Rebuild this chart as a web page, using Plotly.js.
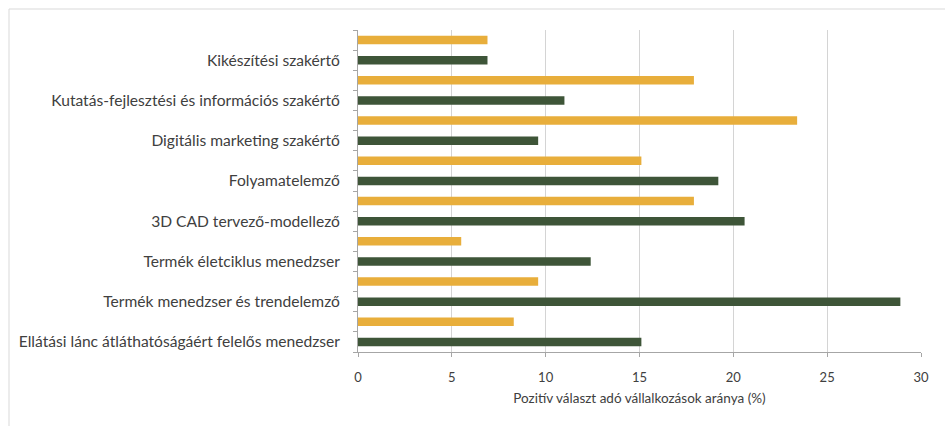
<!DOCTYPE html>
<html>
<head>
<meta charset="utf-8">
<script src="https://cdn.plot.ly/plotly-3.0.1.min.js"></script>
<style>
  html, body { margin: 0; padding: 0; background: #ffffff; }
  #chart { width: 945px; height: 426px; }
</style>
</head>
<body>
<div id="chart"></div>
<script>
// Categories, top to bottom as shown
const categories = [
  "Kikészítési szakértő",
  "Kutatás-fejlesztési és információs szakértő",
  "Digitális marketing szakértő",
  "Folyamatelemző",
  "3D CAD tervező-modellező",
  "Termék életciklus menedzser",
  "Termék menedzser és trendelemző",
  "Ellátási lánc átláthatóságáért felelős menedzser"
];
// Orange series (upper bar of each pair)
const orangeValues = [6.9, 17.9, 23.4, 15.1, 17.9, 5.5, 9.6, 8.3];
// Green series (lower bar of each pair)
const greenValues = [6.9, 11.0, 9.6, 19.2, 20.6, 12.4, 28.9, 15.1];
const xTicks = [0, 5, 10, 15, 20, 25, 30];
const xTitle = "Pozitív választ adó vállalkozások aránya (%)";

// each category occupies two rows: orange row then green row
const orangeRows = categories.map((c, i) => 2 * i);
const greenRows = categories.map((c, i) => 2 * i + 1);

const font = { family: "Lato, 'Open Sans', sans-serif", size: 13, color: "#404040" };
const yFont = { family: "Lato, 'Open Sans', sans-serif", size: 15.6, color: "#404040" };
const titleFont = { family: "Lato, 'Open Sans', sans-serif", size: 13.5, color: "#404040" };

const traces = [
  {
    type: "bar", orientation: "h",
    x: orangeValues, y: orangeRows,
    width: 0.42,
    marker: { color: "#E8AE3B" },
    hoverinfo: "x", showlegend: false
  },
  {
    type: "bar", orientation: "h",
    x: greenValues, y: greenRows,
    width: 0.42,
    marker: { color: "#3E5538" },
    hoverinfo: "x", showlegend: false
  }
];

const L = 358, R = 921, T = 30, B = 352, W = 945, H = 426;
const px = v => (v - L) / (R - L);
const py = v => (B - v) / (B - T);

const layout = {
  width: W, height: H,
  margin: { l: L, r: W - R, t: T, b: H - B, pad: 0 },
  paper_bgcolor: "#ffffff",
  plot_bgcolor: "#ffffff",
  font: font,
  barmode: "overlay",
  xaxis: {
    range: [0, 30],
    tickmode: "array",
    tickvals: xTicks,
    ticktext: xTicks.map(String),
    showgrid: true,
    gridcolor: "#D4D4D4",
    gridwidth: 1,
    zeroline: false,
    showline: true,
    linecolor: "#A6A6A6",
    linewidth: 1,
    ticks: "outside",
    ticklen: 4,
    tickcolor: "#A6A6A6",
    ticklabelstandoff: 9,
    tickfont: font,
    title: { text: xTitle, font: titleFont, standoff: 9 },
    fixedrange: true
  },
  yaxis: {
    range: [15.5, -0.5],
    tickmode: "array",
    tickvals: greenRows,
    ticktext: categories,
    showgrid: false,
    zeroline: false,
    showline: true,
    linecolor: "#A6A6A6",
    linewidth: 1,
    ticks: "",
    minor: { tick0: 0.5, dtick: 1, ticks: "outside", ticklen: 4, tickcolor: "#A6A6A6", showgrid: false },
    ticklabelstandoff: 14,
    tickfont: yFont,
    fixedrange: true
  },
  shapes: [
    { type: "line", xref: "paper", yref: "paper", x0: px(9), x1: px(945), y0: py(9), y1: py(9),
      line: { color: "#D9D9D9", width: 1 } },
    { type: "line", xref: "paper", yref: "paper", x0: px(9), x1: px(9), y0: py(9), y1: py(426),
      line: { color: "#D9D9D9", width: 1 } }
  ]
};

Plotly.newPlot("chart", traces, layout, { displayModeBar: false, staticPlot: true });
</script>
</body>
</html>
